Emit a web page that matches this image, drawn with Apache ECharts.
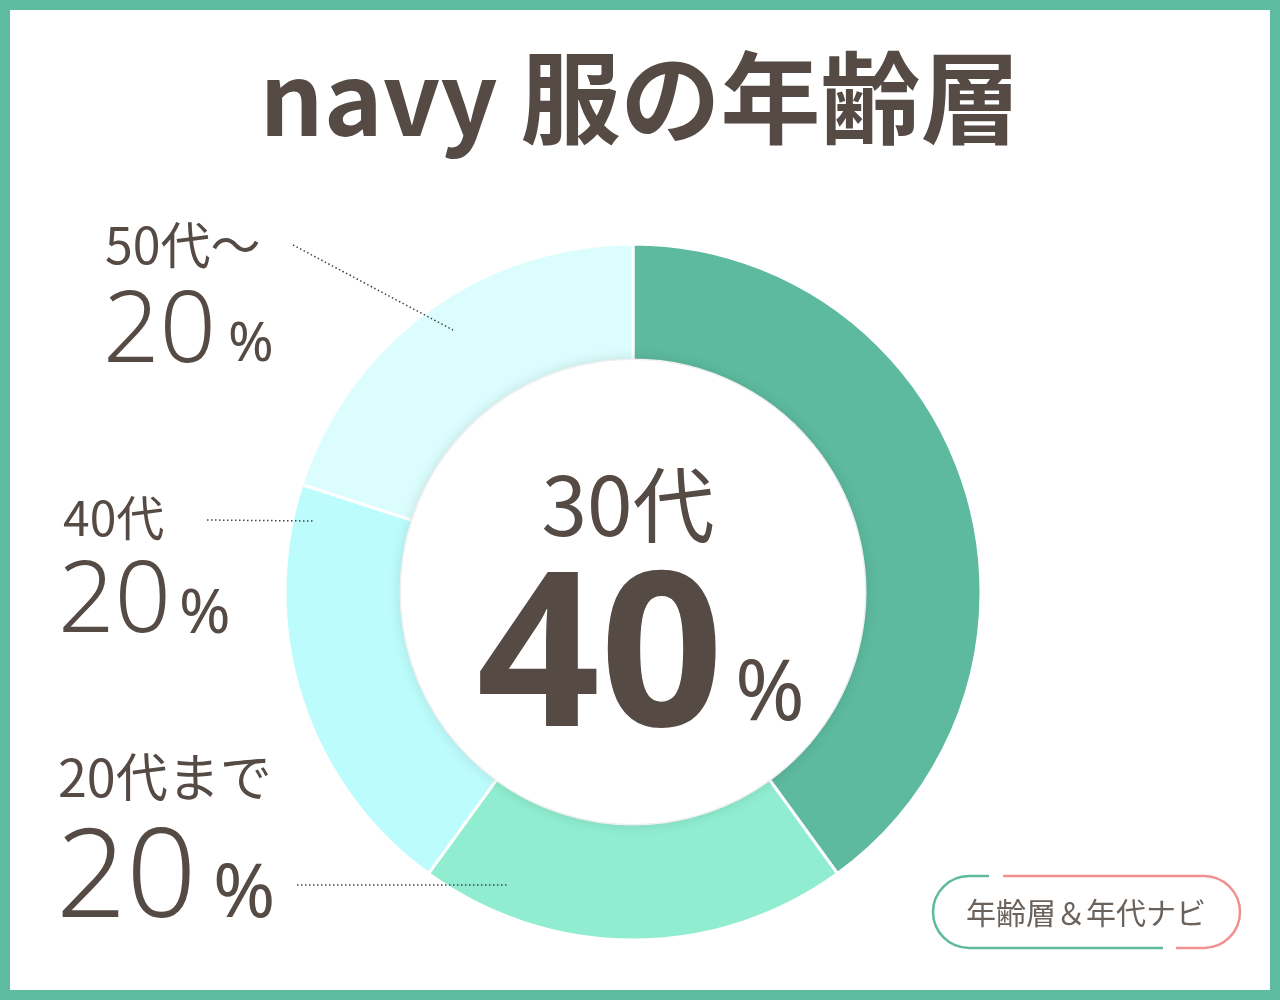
<!DOCTYPE html>
<html><head><meta charset="utf-8">
<script src="https://cdn.jsdelivr.net/npm/echarts@6/dist/echarts.min.js"></script>
<style>html,body{margin:0;padding:0;background:#fff}#c{width:1280px;height:1000px}</style>
</head><body><div id="c"></div>
<script>
const titleText = 'navy 服の年齢層';
const categories = ['30代', '20代まで', '40代', '50代～'];
const values = [40, 20, 20, 20];
const colors = ['#5dba9e', '#90edd0', '#bdfcfc', '#dcfdfd'];
const badgeText = '年齢層＆年代ナビ';

const TXT = '#554a44';
const FONT = '"Noto Sans CJK JP", "Noto Sans", sans-serif';
const NUMFONT = '"Noto Sans", "Noto Sans CJK JP", sans-serif';
const total = values.reduce((a, b) => a + b, 0);
const pct = v => Math.round(v / total * 100);

// side label layouts (index into categories) - style only
const sideLayout = {
  3: {x: 105, catY: 245, catSize: 50, numX: 103, numTop: 284, numSize: 99, pctX: 228, pctTop: 318, pctSize: 55, line: [[293, 245], [453, 330]]},
  2: {x: 63, catY: 518, catSize: 48, numX: 58, numTop: 554, numSize: 99, pctX: 179, pctTop: 584, pctSize: 62, line: [[207, 520], [313, 521]]},
  1: {x: 58, catY: 777, catSize: 52, numX: 56, numTop: 820, numSize: 123, pctX: 213, pctTop: 858, pctSize: 75, line: [[297, 885], [507, 885]]}
};

const chart = echarts.init(document.getElementById('c'));
const graphics = [];
graphics.push({type: 'rect', shape: {x: 5, y: 5, width: 1270, height: 990}, style: {fill: 'none', stroke: '#5dbb9f', lineWidth: 10}, z: 200});

Object.keys(sideLayout).forEach(k => {
  const i = +k, L = sideLayout[k];
  graphics.push({type: 'text', x: L.x, y: L.catY, style: {text: categories[i], font: `400 ${L.catSize}px ${FONT}`, fill: TXT, textVerticalAlign: 'middle', textAlign: 'left'}, z: 50});
  graphics.push({type: 'text', x: L.numX, y: L.numTop, style: {text: String(pct(values[i])), font: `300 ${L.numSize}px ${NUMFONT}`, fill: TXT, textVerticalAlign: 'top', textAlign: 'left'}, z: 50});
  graphics.push({type: 'text', x: L.pctX, y: L.pctTop, style: {text: '%', font: `400 ${L.pctSize}px ${NUMFONT}`, fill: TXT, textVerticalAlign: 'top', textAlign: 'left'}, z: 50});
  graphics.push({type: 'polyline', shape: {points: L.line}, style: {stroke: '#444', lineWidth: 1.5, lineDash: [1.5, 2.5], fill: 'none'}, z: 50});
});

// center label (largest category)
graphics.push({type: 'text', x: 628, y: 505, style: {text: categories[0], font: `400 82px ${FONT}`, fill: TXT, textAlign: 'center', textVerticalAlign: 'middle'}, z: 60});
graphics.push({type: 'text', x: 600, y: 556, style: {text: String(pct(values[0])), font: `700 216px ${NUMFONT}`, fill: TXT, textAlign: 'center', textVerticalAlign: 'top'}, z: 60});
graphics.push({type: 'text', x: 735, y: 654, style: {text: '%', font: `400 84px ${NUMFONT}`, fill: TXT, textAlign: 'left', textVerticalAlign: 'top'}, z: 60});

// badge
const bc = 912, br = 36, lx = 969, rx = 1204;
const G = '#5dba9e', P = '#f09090';
graphics.push({type: 'arc', shape: {cx: lx, cy: bc, r: br, startAngle: Math.PI / 2, endAngle: Math.PI * 1.5}, style: {stroke: G, lineWidth: 2.5, fill: 'none'}});
graphics.push({type: 'line', shape: {x1: lx, y1: bc - br, x2: 989, y2: bc - br}, style: {stroke: G, lineWidth: 2.5}});
graphics.push({type: 'line', shape: {x1: lx, y1: bc + br, x2: 1163, y2: bc + br}, style: {stroke: G, lineWidth: 2.5}});
graphics.push({type: 'arc', shape: {cx: rx, cy: bc, r: br, startAngle: -Math.PI / 2, endAngle: Math.PI / 2}, style: {stroke: P, lineWidth: 2.5, fill: 'none'}});
graphics.push({type: 'line', shape: {x1: 1003, y1: bc - br, x2: rx, y2: bc - br}, style: {stroke: P, lineWidth: 2.5}});
graphics.push({type: 'line', shape: {x1: 1176, y1: bc + br, x2: rx, y2: bc + br}, style: {stroke: P, lineWidth: 2.5}});
graphics.push({type: 'text', x: 1086, y: 913, style: {text: badgeText, font: `400 30px ${FONT}`, fill: '#6b625c', textAlign: 'center', textVerticalAlign: 'middle'}});

chart.setOption({
  backgroundColor: '#ffffff',
  animation: false,
  title: {text: titleText, left: 'center', top: 43, textStyle: {fontFamily: FONT, fontWeight: 'bold', fontSize: 100, color: TXT}},
  graphic: {elements: graphics},
  series: [
    {
      type: 'pie', center: [633, 592], radius: [232, 348], startAngle: 90, clockwise: true,
      silent: true, label: {show: false}, labelLine: {show: false},
      itemStyle: {borderColor: '#fff', borderWidth: 3},
      data: categories.map((c, i) => ({name: c, value: values[i], itemStyle: {color: colors[i]}}))
    },
    {
      type: 'pie', center: [633, 592], radius: [0, 232], silent: true, z: 3,
      label: {show: false}, labelLine: {show: false},
      itemStyle: {color: '#fff', shadowBlur: 14, shadowColor: 'rgba(0,0,0,0.14)'},
      data: [{value: 1, name: 'inner'}]
    }
  ]
});
</script></body></html>
